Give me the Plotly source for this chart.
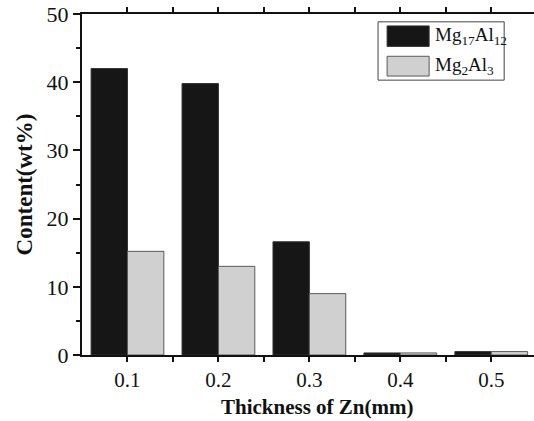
import plotly.graph_objects as go

thickness = ["0.1", "0.2", "0.3", "0.4", "0.5"]
mg17al12 = [42.0, 39.8, 16.6, 0.3, 0.5]
mg2al3 = [15.2, 13.0, 9.0, 0.3, 0.5]
series_names = ["Mg<sub>17</sub>Al<sub>12</sub>", "Mg<sub>2</sub>Al<sub>3</sub>"]
y_ticks = [0, 10, 20, 30, 40, 50]

FONT = "Liberation Serif"
idx = list(range(len(thickness)))

fig = go.Figure()
fig.add_trace(go.Bar(x=idx, y=mg17al12, name=series_names[0],
                     marker=dict(color="#161616", line=dict(color="#333333", width=1))))
fig.add_trace(go.Bar(x=idx, y=mg2al3, name=series_names[1],
                     marker=dict(color="#d0d0d0", line=dict(color="#5a5a5a", width=1))))

fig.update_layout(
    width=534, height=421,
    margin=dict(l=82, r=0, t=14, b=66),
    paper_bgcolor="white", plot_bgcolor="white",
    barmode="group", bargap=0.2, bargroupgap=0,
    showlegend=False,
    font=dict(family=FONT, size=22, color="#111111"),
)
fig.update_xaxes(
    range=[-0.5, 4.47],
    tickmode="array", tickvals=idx, ticktext=thickness,
    tickfont=dict(size=21),
    ticks="outside", ticklen=5, tickwidth=2, tickcolor="#111111",
    minor=dict(tickvals=[i + 0.5 for i in idx], ticks="outside", ticklen=5,
               tickwidth=2, tickcolor="#111111"),
    showline=True, linecolor="#111111", linewidth=2, mirror="ticks",
    showgrid=False, zeroline=False,
)
fig.update_yaxes(
    range=[0, 50], tickmode="array", tickvals=y_ticks,
    ticks="outside", ticklen=7, tickwidth=2, tickcolor="#111111",
    minor=dict(dtick=5, ticks="outside", ticklen=4, tickwidth=2, tickcolor="#111111"),
    showline=True, linecolor="#111111", linewidth=2, mirror=False,
    showgrid=False, zeroline=False,
    title=dict(text="<b>Content(wt%)</b>", font=dict(family=FONT, size=23), standoff=8),
)

# x-axis title as annotation to control its placement
fig.add_annotation(xref="paper", yref="paper", x=0.52, y=-0.19, text="<b>Thickness of Zn(mm)</b>",
                   showarrow=False, xanchor="center", yanchor="bottom", borderpad=0,
                   font=dict(family=FONT, size=21, color="#111111"))

# custom legend (box + swatches + labels)
fig.add_shape(type="rect", xref="paper", yref="paper", x0=0.655, x1=0.934, y0=0.806, y1=0.977,
              line=dict(color="#444444", width=1), fillcolor="white", layer="above")
swatches = [("#161616", "#333333", 0.905, 0.965), ("#d0d0d0", "#5a5a5a", 0.818, 0.876)]
for name, (fc, lc, y0, y1) in zip(series_names, swatches):
    fig.add_shape(type="rect", xref="paper", yref="paper", x0=0.675, x1=0.768, y0=y0, y1=y1,
                  line=dict(color=lc, width=1), fillcolor=fc, layer="above")
    fig.add_annotation(xref="paper", yref="paper", x=0.777, y=(y0 + y1) / 2, text=name,
                       showarrow=False, xanchor="left", yanchor="middle",
                       font=dict(family=FONT, size=19, color="#111111"))

fig.write_html("out.html")
